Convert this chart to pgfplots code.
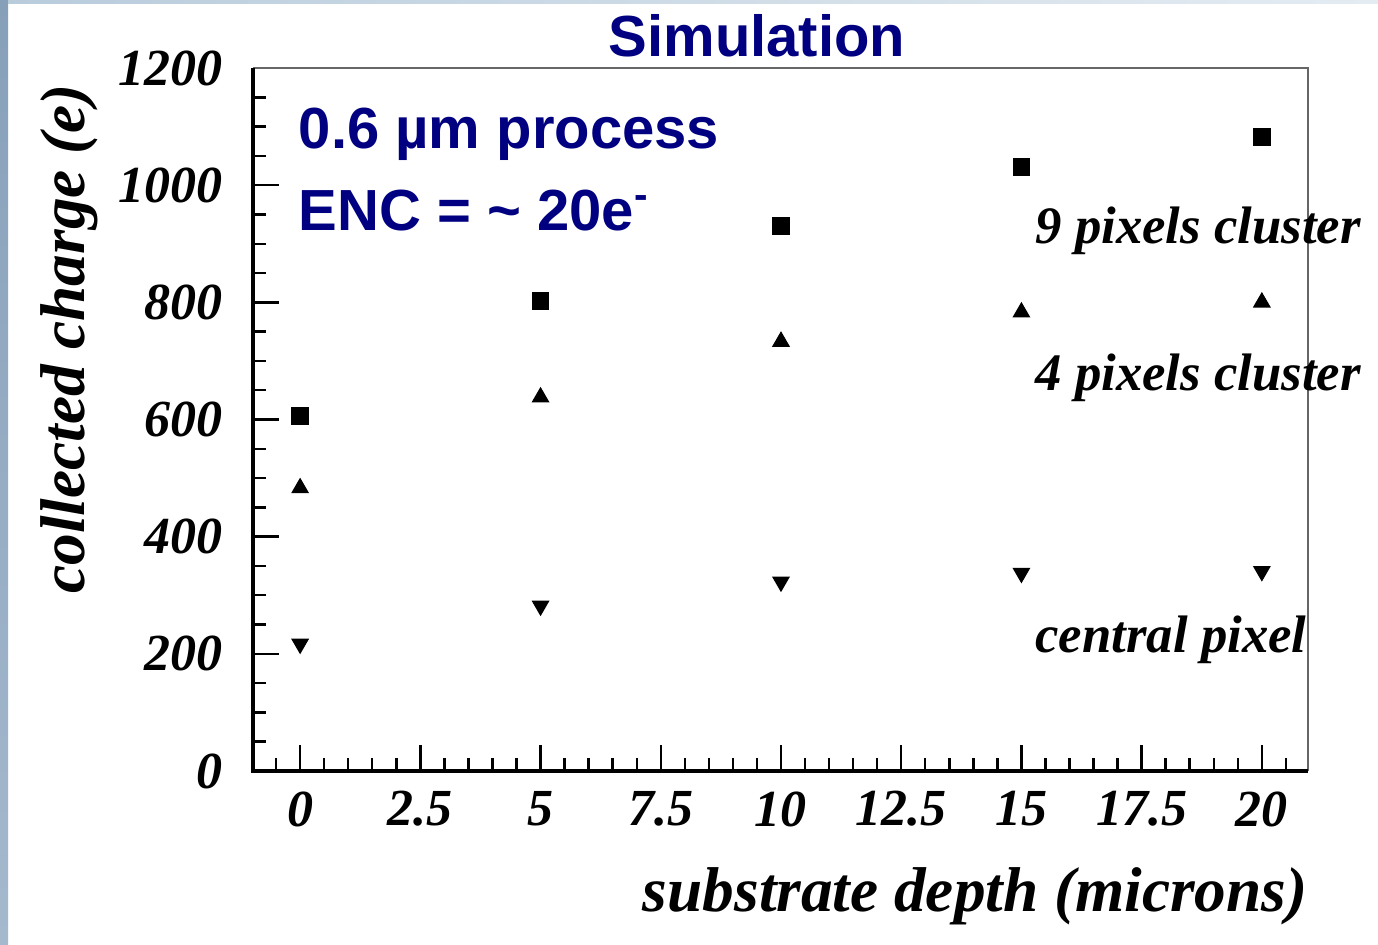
\documentclass[border=0pt]{standalone}
\usepackage{fontspec}
\setmainfont{Liberation Serif}
\setsansfont{Liberation Sans}
\usepackage{pgfplots}
\pgfplotsset{compat=1.18}
\definecolor{navy}{RGB}{0,0,128}
\definecolor{bandA}{RGB}{135,160,186}
\definecolor{bandB}{RGB}{165,185,205}
\definecolor{topA}{RGB}{185,204,220}
\definecolor{topB}{RGB}{228,236,242}
\newcommand{\bi}[1]{\fontsize{#1}{#1}\selectfont\bfseries\itshape}
\begin{document}
\begin{tikzpicture}
\useasboundingbox (0,0) rectangle (137.8mm,94.4mm);
\fill[white] (0,0) rectangle (137.8mm,94.4mm);
\shade[bottom color=bandB, top color=bandA] (0,0) rectangle (0.8mm,94.4mm);
\shade[left color=topA, right color=topB] (0.8mm,94.0mm) rectangle (137.8mm,94.4mm);
\begin{axis}[
    at={(25.3mm,17.3mm)}, anchor=south west,
    scale only axis,
    width=105.5mm, height=70.3mm,
    xmin=-0.98, xmax=20.96,
    ymin=0, ymax=1200,
    xtick={0,2.5,...,20},
    minor xtick={-0.5,0,...,20.5},
    ytick={0,200,...,1200},
    minor ytick={0,50,...,1200},
    xtick pos=bottom, ytick pos=left,
    tick align=inside,
    major tick length=2.6mm,
    minor tick length=1.3mm,
    tick style={black, line width=0.7pt},
    axis line style={draw=none},
    scaled y ticks=false,
    /pgf/number format/1000 sep={},
    /pgf/number format/assume math mode=true,
    xticklabel style={font=\bi{14.8}, yshift=-0.8mm},
    yticklabel style={font=\bi{14.8}, xshift=-1.8mm},
    xlabel={substrate depth (microns)},
    ylabel={collected charge (e)},
    xlabel style={font=\bi{18}, at={(axis description cs:1,-0.178)}, anchor=east, inner sep=0pt},
    ylabel style={font=\bi{18}, at={(axis description cs:-0.146,0.978)}, anchor=south east, rotate=0, inner sep=0pt},
    clip=false,
]
\addplot[only marks, mark=square*, mark size=0.82mm, black] coordinates {
    (0,606) (5,802) (10,930) (15,1031) (20,1082)
};
\addplot[only marks, mark=triangle*, mark size=0.9mm, black] coordinates {
    (0,483) (5,638) (10,733) (15,783) (20,800)
};
\addplot[only marks, mark=triangle*, mark size=0.9mm, black, mark options={rotate=180}] coordinates {
    (0,217) (5,282) (10,323) (15,338) (20,341)
};
\draw[gray!80!black, line width=0.6pt] (rel axis cs:0,1) -- (rel axis cs:1,1) -- (rel axis cs:1,0);
\draw[black, line width=0.9pt] (rel axis cs:0,1) -- (rel axis cs:0,0) -- (rel axis cs:1,0);
\node[anchor=base west, inner sep=0pt, font=\bi{15}] at (axis cs:15.28,901) {9 pixels cluster};
\node[anchor=base west, inner sep=0pt, font=\bi{15}] at (axis cs:15.28,650) {4 pixels cluster};
\node[anchor=base west, inner sep=0pt, font=\bi{15}] at (axis cs:15.28,202) {central pixel};
\node[anchor=base west, inner sep=0pt, text=navy, font=\sffamily\bfseries\fontsize{16.5}{16.5}\selectfont] at (axis cs:-0.04,1063) {0.6 µm process};
\node[anchor=base west, inner sep=0pt, text=navy, font=\sffamily\bfseries\fontsize{16.5}{16.5}\selectfont] at (axis cs:-0.04,923) {ENC = \char"007E{} 20e\textsuperscript{-}};
\node[anchor=base, inner sep=0pt, text=navy, font=\sffamily\bfseries\fontsize{16.5}{16.5}\selectfont] at (axis cs:9.5,1220) {Simulation};
\end{axis}
\end{tikzpicture}
\end{document}
